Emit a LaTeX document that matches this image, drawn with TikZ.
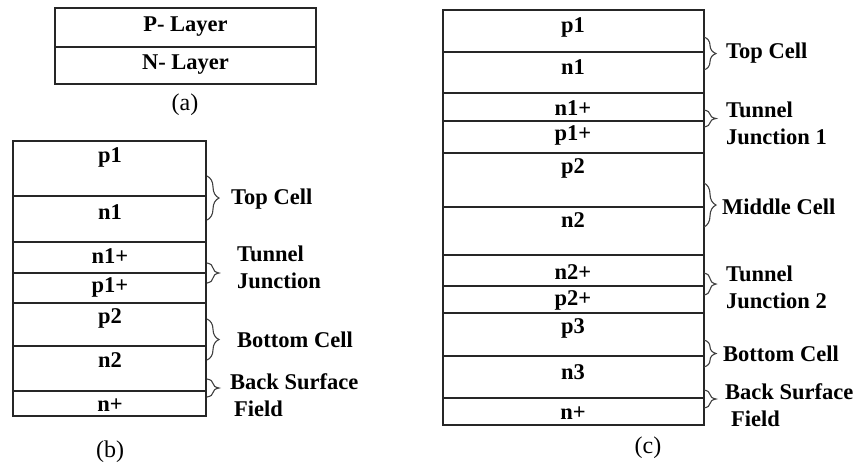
\documentclass[tikz,border=0pt]{standalone}
\usepackage{fontspec}
\setmainfont{Liberation Serif}
\usetikzlibrary{decorations.pathreplacing}
\begin{document}
\begin{tikzpicture}[x=1pt,y=-1pt,
  layerline/.style={line width=1.4pt,draw=black!85},
  lbl/.style={font=\fontsize{22.5}{24}\selectfont\bfseries,inner sep=0pt},
  side/.style={font=\fontsize{22.5}{27}\selectfont\bfseries,inner sep=0pt,anchor=west,align=left},
  figcap/.style={font=\fontsize{24}{26}\selectfont,inner sep=0pt},
  cbrace/.style={decorate,decoration={brace,amplitude=12pt},line width=1.1pt,draw=black!75}]
\useasboundingbox (0,0) rectangle (866,464);

% ---- (a) single junction ----
\draw[layerline] (55,8) rectangle (316,84);
\draw[layerline] (55,47) -- (316,47);
\node[lbl] (aP) at (185.5,27) {P- Layer};
\node[lbl] (aN) at (185.5,65) {N- Layer};
\node[figcap] (acap) at (185,105) {(a)};

% ---- (b) tandem cell ----
\draw[layerline] (13,141) rectangle (206,416);
\foreach \yy in {196,242,273,303,346,391} \draw[layerline] (13,\yy) -- (206,\yy);
\node[lbl] (bp1) at (110,157) {p1};
\node[lbl] (bn1) at (110,212) {n1};
\node[lbl] (bn1p) at (110,256) {n1+};
\node[lbl] (bp1p) at (110,287) {p1+};
\node[lbl] (bp2) at (110,318) {p2};
\node[lbl] (bn2) at (110,360) {n2};
\node[lbl] (bnp) at (110,405) {n+};
\node[figcap] (bcap) at (110,452) {(b)};

\coordinate (btc1) at (207,176); \coordinate (btc2) at (207,220);
\coordinate (btj1) at (207,263); \coordinate (btj2) at (207,283);
\coordinate (bbc1) at (207,319); \coordinate (bbc2) at (207,360);
\coordinate (bbs1) at (207,379); \coordinate (bbs2) at (207,397);
\draw[cbrace] (btc1) -- (btc2);
\draw[cbrace] (btj1) -- (btj2);
\draw[cbrace] (bbc1) -- (bbc2);
\draw[cbrace] (bbs1) -- (bbs2);
\node[side] (btcl) at (231,199) {Top Cell};
\node[side] (btjl) at (237,267) {Tunnel\\Junction};
\node[side] (bbcl) at (237,340) {Bottom Cell};
\node[side] (bbsl) at (230,395) {Back Surface\\\hspace*{4pt}Field};

% ---- (c) triple junction ----
\draw[layerline] (443,10) rectangle (704,425);
\foreach \yy in {52,93,121,153,207,255,286,313,356,398} \draw[layerline] (443,\yy) -- (704,\yy);
\node[lbl] (cp1) at (573,27) {p1};
\node[lbl] (cn1) at (573,67) {n1};
\node[lbl] (cn1p) at (573,108) {n1+};
\node[lbl] (cp1p) at (573,135) {p1+};
\node[lbl] (cp2) at (573,168) {p2};
\node[lbl] (cn2) at (573,220) {n2};
\node[lbl] (cn2p) at (573,272) {n2+};
\node[lbl] (cp2p) at (573,300) {p2+};
\node[lbl] (cp3) at (573,328) {p3};
\node[lbl] (cn3) at (573,372) {n3};
\node[lbl] (cnp) at (573,413) {n+};
\node[figcap] (ccap) at (648,448) {(c)};

\coordinate (ctc1) at (704,37);  \coordinate (ctc2) at (704,70);
\coordinate (ctj1) at (704,110); \coordinate (ctj2) at (704,127);
\coordinate (cmc1) at (704,183); \coordinate (cmc2) at (704,227);
\coordinate (ctk1) at (704,273); \coordinate (ctk2) at (704,295);
\coordinate (cbc1) at (704,340); \coordinate (cbc2) at (704,367);
\coordinate (cbs1) at (704,390); \coordinate (cbs2) at (704,408);
\draw[cbrace] (ctc1) -- (ctc2);
\draw[cbrace] (ctj1) -- (ctj2);
\draw[cbrace] (cmc1) -- (cmc2);
\draw[cbrace] (ctk1) -- (ctk2);
\draw[cbrace] (cbc1) -- (cbc2);
\draw[cbrace] (cbs1) -- (cbs2);
\node[side] (ctcl) at (726,53) {Top Cell};
\node[side] (ctjl) at (726,123) {Tunnel\\Junction 1};
\node[side] (cmcl) at (722,207) {Middle Cell};
\node[side] (ctkl) at (726,287) {Tunnel\\Junction 2};
\node[side] (cbcl) at (723,354) {Bottom Cell};
\node[side] (cbsl) at (725,405) {Back Surface\\\hspace*{6pt}Field};
\end{tikzpicture}
\end{document}
